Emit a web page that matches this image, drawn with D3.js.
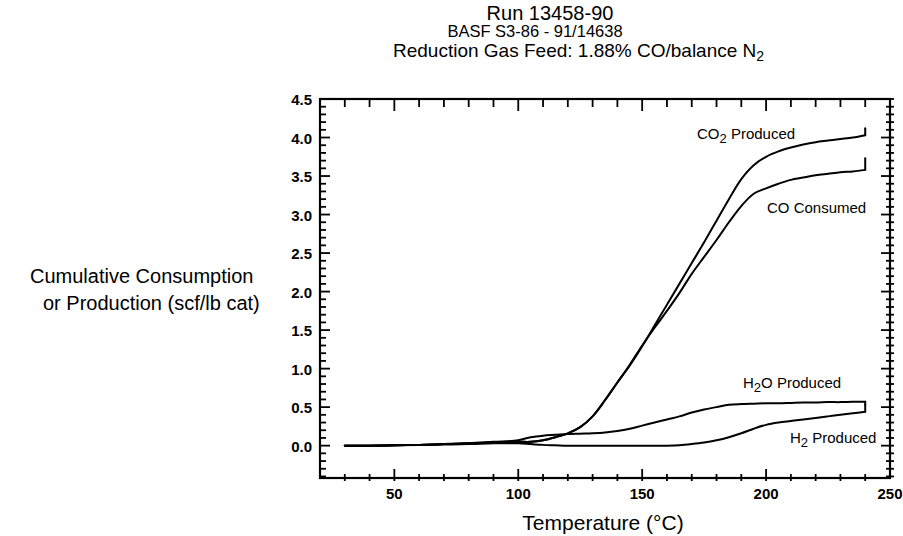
<!DOCTYPE html>
<html>
<head>
<meta charset="utf-8">
<script src="https://cdn.jsdelivr.net/npm/d3@7/dist/d3.min.js"></script>
<style>
  html, body { margin: 0; padding: 0; background: #fff; }
  svg { display: block; font-family: "Liberation Sans", Arial, Helvetica, sans-serif; }
  text { fill: #000; }
</style>
</head>
<body>
<svg id="chart" width="903" height="536"></svg>
<script>
// Temperature grid (°C) shared by all series
const temperature = [30, 40, 50, 60, 70, 80, 90, 100, 105, 110, 115, 120, 125, 130, 135, 140, 145, 150,
  155, 160, 165, 170, 175, 180, 185, 190, 195, 200, 205, 210, 215, 220, 225, 230, 235, 240];

// Cumulative values (scf/lb cat)
const co2Produced = [0.00, 0.00, 0.005, 0.01, 0.02, 0.03, 0.04, 0.05, 0.05, 0.07, 0.11, 0.16, 0.24, 0.38, 0.59, 0.82, 1.04, 1.29,
  1.56, 1.83, 2.10, 2.37, 2.64, 2.92, 3.20, 3.46, 3.64, 3.75, 3.82, 3.87, 3.91, 3.94, 3.96, 3.98, 4.00, 4.03];
const coConsumed = [0.00, 0.00, 0.005, 0.01, 0.02, 0.03, 0.04, 0.05, 0.05, 0.07, 0.11, 0.16, 0.24, 0.38, 0.59, 0.82, 1.05, 1.30,
  1.53, 1.75, 1.98, 2.23, 2.45, 2.67, 2.90, 3.11, 3.27, 3.34, 3.40, 3.45, 3.48, 3.51, 3.53, 3.55, 3.56, 3.58];
const h2oProduced = [0.00, 0.00, 0.005, 0.01, 0.02, 0.03, 0.05, 0.07, 0.11, 0.13, 0.14, 0.15, 0.155, 0.16, 0.17, 0.19, 0.22, 0.26,
  0.30, 0.34, 0.38, 0.43, 0.47, 0.50, 0.53, 0.54, 0.545, 0.55, 0.55, 0.555, 0.56, 0.56, 0.565, 0.565, 0.57, 0.57];
const h2Produced = [0.00, 0.00, 0.005, 0.01, 0.015, 0.02, 0.03, 0.03, 0.02, 0.01, 0.005, 0.00, 0.00, 0.00, 0.00, 0.00, 0.00, 0.00,
  0.00, 0.00, 0.005, 0.02, 0.04, 0.07, 0.11, 0.16, 0.22, 0.27, 0.30, 0.32, 0.34, 0.36, 0.38, 0.40, 0.42, 0.44];

// Short vertical end marks at the last temperature: [series value, mark end]
const co2EndMark = [4.03, 4.12];
const coEndMark = [3.58, 3.73];
const h2oEndMark = [0.57, 0.53];
const h2EndMark = [0.44, 0.53];

// Axis tick labels
const xTickLabels = [50, 100, 150, 200, 250];
const yTickLabels = [0.0, 0.5, 1.0, 1.5, 2.0, 2.5, 3.0, 3.5, 4.0, 4.5];

const svg = d3.select("#chart");
const x = d3.scaleLinear().domain([20, 250]).range([320, 890]);
const y = d3.scaleLinear().domain([-0.42, 4.5]).range([478, 99]);

const ink = "#000";

// ---- Titles ----
const titles = svg.append("g");
titles.append("text").attr("x", 550).attr("y", 20).attr("text-anchor", "middle")
  .style("font-size", "20px").text("Run 13458-90");
titles.append("text").attr("x", 535).attr("y", 37).attr("text-anchor", "middle")
  .style("font-size", "16.5px").text("BASF S3-86 - 91/14638");
const t3 = titles.append("text").attr("x", 393).attr("y", 57).style("font-size", "19px");
t3.append("tspan").text("Reduction Gas Feed: 1.88% CO/balance N");
t3.append("tspan").attr("dy", 4).style("font-size", "14px").text("2");

// ---- Frame ----
const minorX = d3.range(30, 250, 10);
const minorY = d3.range(-4, 46).map(d => d / 10);

const frame = svg.append("g").attr("stroke", ink).attr("fill", "none");
frame.append("rect")
  .attr("x", x(20)).attr("y", y(4.5))
  .attr("width", x(250) - x(20)).attr("height", y(-0.42) - y(4.5))
  .attr("stroke-width", 2.2);

const isMajorX = d => d % 50 === 0;
const isMajorY = d => Math.abs(Math.round(d * 10) % 5) === 0;

// bottom ticks (cross the axis, majors taller inside)
frame.selectAll(".bt").data(minorX).join("line")
  .attr("x1", d => x(d)).attr("x2", d => x(d))
  .attr("y1", d => y(-0.42) - (isMajorX(d) ? 9 : 4)).attr("y2", y(-0.42) + 3)
  .attr("stroke-width", 1.8);
// top ticks (inside)
frame.selectAll(".tt").data(minorX).join("line")
  .attr("x1", d => x(d)).attr("x2", d => x(d))
  .attr("y1", y(4.5)).attr("y2", d => y(4.5) + (isMajorX(d) ? 12 : 8))
  .attr("stroke-width", 1.8);
// left ticks (inside)
frame.selectAll(".lt").data(minorY).join("line")
  .attr("y1", d => y(d)).attr("y2", d => y(d))
  .attr("x1", x(20)).attr("x2", d => x(20) + (isMajorY(d) ? 10 : 6))
  .attr("stroke-width", 1.8);
// right ticks (cross the axis)
frame.selectAll(".rt").data(minorY).join("line")
  .attr("y1", d => y(d)).attr("y2", d => y(d))
  .attr("x1", d => x(250) - (isMajorY(d) ? 9 : 4)).attr("x2", x(250) + 4)
  .attr("stroke-width", 1.8);

// ---- Tick labels ----
svg.append("g").selectAll("text").data(xTickLabels).join("text")
  .attr("x", d => x(d)).attr("y", 499).attr("text-anchor", "middle")
  .style("font-size", "15px").style("font-weight", "bold")
  .text(d => d);
svg.append("g").selectAll("text").data(yTickLabels).join("text")
  .attr("x", 312).attr("y", d => y(d) + 6).attr("text-anchor", "end")
  .style("font-size", "15px").style("font-weight", "bold")
  .text(d => d3.format(".1f")(d));

// ---- Axis titles ----
svg.append("text").attr("x", 603).attr("y", 530).attr("text-anchor", "middle")
  .style("font-size", "21px").text("Temperature (°C)");
svg.append("text").attr("x", 30).attr("y", 283).style("font-size", "20px").text("Cumulative Consumption");
svg.append("text").attr("x", 43).attr("y", 310).style("font-size", "20px").text("or Production (scf/lb cat)");

// ---- Curves ----
const line = d3.line()
  .x((d, i) => x(temperature[i]))
  .y(d => y(d))
  .curve(d3.curveCatmullRom.alpha(0.5));

const series = [
  { values: co2Produced, mark: co2EndMark },
  { values: coConsumed, mark: coEndMark },
  { values: h2oProduced, mark: h2oEndMark },
  { values: h2Produced, mark: h2EndMark }
];
const tLast = temperature[temperature.length - 1];

const curves = svg.append("g").attr("fill", "none").attr("stroke", ink)
  .attr("stroke-width", 2).attr("stroke-linejoin", "round").attr("stroke-linecap", "round");
curves.selectAll("path").data(series).join("path").attr("d", d => line(d.values));
curves.selectAll("line").data(series).join("line")
  .attr("x1", x(tLast)).attr("x2", x(tLast))
  .attr("y1", d => y(d.mark[0])).attr("y2", d => y(d.mark[1]));

// ---- Series labels ----
function label(xp, yp, parts) {
  const t = svg.append("text").attr("x", xp).attr("y", yp).style("font-size", "15px");
  parts.forEach(p => {
    const s = t.append("tspan").text(p.t);
    if (p.sub) s.attr("dy", 4).style("font-size", "13px");
    if (p.back) s.attr("dy", -4);
  });
}
label(697, 139, [{ t: "CO" }, { t: "2", sub: true }, { t: " Produced", back: true }]);
label(767, 213, [{ t: "CO Consumed" }]);
label(743, 388, [{ t: "H" }, { t: "2", sub: true }, { t: "O Produced", back: true }]);
label(790, 443, [{ t: "H" }, { t: "2", sub: true }, { t: " Produced", back: true }]);
</script>
</body>
</html>
